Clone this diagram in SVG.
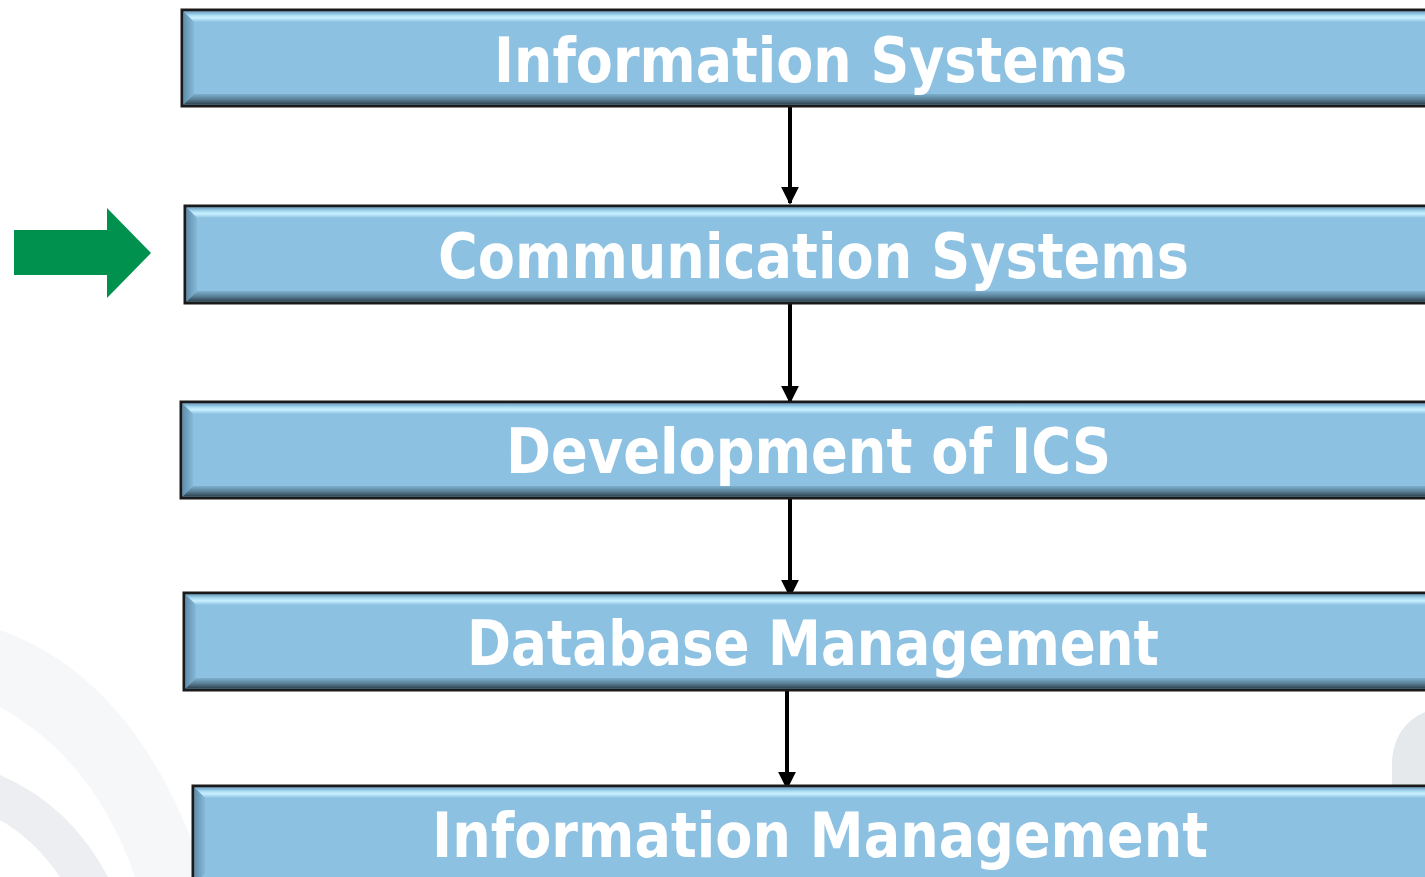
<svg xmlns="http://www.w3.org/2000/svg" width="1425" height="877" viewBox="0 0 1425 877">
<style>
.frame{fill:#8dc1e2;stroke:#1a1a1a;stroke-width:3}
.lbl{font-family:"DejaVu Sans","Liberation Sans",sans-serif;font-weight:bold;font-size:62px;fill:#ffffff;text-anchor:middle}
.conn{stroke:#000;stroke-width:4;fill:none}
</style>
<defs>
<linearGradient id="gTop" x1="0" y1="0" x2="0" y2="1">
<stop offset="0" stop-color="#6f9fbf"/>
<stop offset="0.35" stop-color="#a9dcf3"/>
<stop offset="0.6" stop-color="#c9f1ff"/>
<stop offset="1" stop-color="#8dc1e2"/>
</linearGradient>
<linearGradient id="gBot" x1="0" y1="0" x2="0" y2="1">
<stop offset="0" stop-color="#7eb0cf"/>
<stop offset="0.5" stop-color="#5b8299"/>
<stop offset="1" stop-color="#2f4250"/>
</linearGradient>
<linearGradient id="gLeft" x1="0" y1="0" x2="1" y2="0">
<stop offset="0" stop-color="#5f8eab"/>
<stop offset="1" stop-color="#86b9d8"/>
</linearGradient>
<marker id="ah" viewBox="0 0 10 10" refX="9" refY="5" markerWidth="4.5" markerHeight="4.5" orient="auto" markerUnits="strokeWidth">
<path d="M0,0 L10,5 L0,10 Z" fill="#000"/>
</marker>
</defs>
<rect width="1425" height="877" fill="#ffffff"/>
<g id="background">
<path d="M0,630 Q140,680 205,877 L135,877 Q95,760 0,707 Z" fill="#f6f7f8"/>
<path d="M0,775 Q70,805 108,877 L60,877 Q35,840 0,820 Z" fill="#eceef1"/>
<path d="M1425,712 Q1395,725 1392,760 L1392,790 L1425,790 Z" fill="#e6e9eb"/>
</g>
<g id="connectors">
<line class="conn" x1="790" y1="106" x2="790" y2="203" marker-end="url(#ah)"/>
<line class="conn" x1="790" y1="303" x2="790" y2="402" marker-end="url(#ah)"/>
<line class="conn" x1="790" y1="498" x2="790" y2="596" marker-end="url(#ah)"/>
<line class="conn" x1="787" y1="690" x2="787" y2="788" marker-end="url(#ah)"/>
</g>
<g id="pointer">
<polygon points="14,230 107,230 107,208 151,253 107,298 107,275 14,275" fill="#00914f"/>
</g>
<g id="node1" transform="translate(182,10)">
<rect class="frame" x="0" y="0" width="1270" height="96"/>
<polygon points="1.5,1.5 1268,1.5 1258,12 12,12" fill="url(#gTop)"/>
<polygon points="1.5,1.5 12,12 12,84 1.5,94.5" fill="url(#gLeft)"/>
<polygon points="1.5,94.5 12,84 1258,84 1268,94.5" fill="url(#gBot)"/>
<text class="lbl" x="628.5" y="72" textLength="633" lengthAdjust="spacingAndGlyphs">Information Systems</text>
</g>
<g id="node2" transform="translate(185,206)">
<rect class="frame" x="0" y="0" width="1270" height="97"/>
<polygon points="1.5,1.5 1268,1.5 1258,12 12,12" fill="url(#gTop)"/>
<polygon points="1.5,1.5 12,12 12,85 1.5,95.5" fill="url(#gLeft)"/>
<polygon points="1.5,95.5 12,85 1258,85 1268,95.5" fill="url(#gBot)"/>
<text class="lbl" x="628.5" y="72" textLength="751" lengthAdjust="spacingAndGlyphs">Communication Systems</text>
</g>
<g id="node3" transform="translate(181,402)">
<rect class="frame" x="0" y="0" width="1270" height="96"/>
<polygon points="1.5,1.5 1268,1.5 1258,12 12,12" fill="url(#gTop)"/>
<polygon points="1.5,1.5 12,12 12,84 1.5,94.5" fill="url(#gLeft)"/>
<polygon points="1.5,94.5 12,84 1258,84 1268,94.5" fill="url(#gBot)"/>
<text class="lbl" x="627.5" y="71" textLength="605" lengthAdjust="spacingAndGlyphs">Development of ICS</text>
</g>
<g id="node4" transform="translate(184,593)">
<rect class="frame" x="0" y="0" width="1270" height="97"/>
<polygon points="1.5,1.5 1268,1.5 1258,12 12,12" fill="url(#gTop)"/>
<polygon points="1.5,1.5 12,12 12,85 1.5,95.5" fill="url(#gLeft)"/>
<polygon points="1.5,95.5 12,85 1258,85 1268,95.5" fill="url(#gBot)"/>
<text class="lbl" x="629" y="72" textLength="692" lengthAdjust="spacingAndGlyphs">Database Management</text>
</g>
<g id="node5" transform="translate(193,786)">
<rect class="frame" x="0" y="0" width="1270" height="100"/>
<polygon points="1.5,1.5 1268,1.5 1258,12 12,12" fill="url(#gTop)"/>
<polygon points="1.5,1.5 12,12 12,88 1.5,98.5" fill="url(#gLeft)"/>
<text class="lbl" x="627" y="71" textLength="776" lengthAdjust="spacingAndGlyphs">Information Management</text>
</g>
</svg>
